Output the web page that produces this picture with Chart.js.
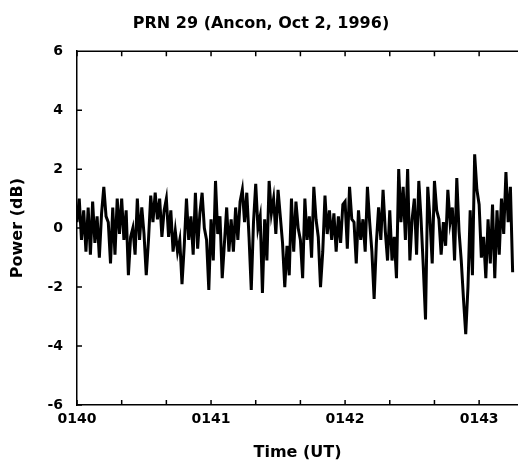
<!DOCTYPE html>
<html>
<head>
<meta charset="utf-8">
<script src="https://cdn.jsdelivr.net/npm/chart.js@4"></script>
<style>
  body { margin: 0; background: #fff; }
</style>
</head>
<body>
<canvas id="c" width="518" height="466"></canvas>
<script>
/* ===============================
   Data
================================ */
const chartTitle = "PRN 29 (Ancon, Oct 2, 1996)";
const xTickLabels = ["0140", "0141", "0142", "0143"];
const yTicks = [6, 4, 2, 0, -2, -4, -6];
const sampleSeconds = 1;

// power in dB, one sample per second starting at 01:40 UT
const powerDb = [
  0.2, 1.0, -0.4, 0.6, -0.8, 0.7, -0.9, 0.9, -0.5, 0.4, -1.0, 0.5, 1.4, 0.4, 0.2, -1.2, 0.7, -0.9, 1.0, -0.2,
  1.0, -0.4, 0.6, -1.6, -0.3, 0.0, -0.9, 1.0, -0.4, 0.7, -0.2, -1.6, -0.4, 1.1, 0.2, 1.2, 0.3, 1.0, -0.3, 0.6,
  1.0, -0.3, 0.6, -0.8, -0.1, -0.8, -0.4, -1.9, -0.6, 1.0, -0.4, 0.4, -0.9, 1.2, -0.7, 0.5, 1.2, 0.0, -0.4, -2.1,
  0.3, -1.1, 1.6, -0.2, 0.4, -1.7, -0.5, 0.7, -0.8, 0.3, -0.8, 0.7, -0.4, 0.9, 1.3, 0.2, 1.2, -0.3, -2.1, 0.2,
  1.5, 0.0, 0.4, -2.2, 0.3, -1.1, 1.6, 0.5, 1.0, -0.2, 1.3, 0.4, -0.5, -2.0, -0.6, -1.6, 1.0, -0.8, 0.9, 0.0,
  -0.4, -1.7, 1.0, -0.4, 0.4, -1.0, 1.4, 0.3, -0.3, -2.0, -0.8, 1.1, -0.2, 0.6, -0.4, 0.5, -0.8, 0.4, -0.5, 0.8,
  0.9, -0.7, 1.4, 0.3, 0.2, -1.2, 0.6, -0.4, 0.3, -0.8, 1.4, 0.2, -0.8, -2.4, -0.5, 0.7, -0.4, 1.3, -0.1, -1.1,
  0.6, -1.1, -0.3, -1.7, 2.0, 0.2, 1.4, -0.4, 2.0, -1.1, 0.3, 1.0, -0.9, 1.6, 0.3, -1.3, -3.1, 1.4, 0.3, -1.2,
  1.6, 0.6, 0.3, -0.9, 0.2, -0.6, 1.3, 0.2, 0.7, -1.1, 1.7, -0.1, -1.1, -2.4, -3.6, -2.0, 0.6, -1.6, 2.5, 1.3,
  0.8, -1.0, -0.3, -1.7, 0.3, -1.2, 0.8, -1.7, 0.6, -0.9, 1.0, -0.2, 1.9, 0.2, 1.4, -1.5
];

/* ===============================
   Helpers
================================ */
const points = powerDb.map((v, i) => ({ x: i * sampleSeconds / 60, y: v }));
const tickFont = { family: "DejaVu Sans", size: 14, weight: "bold" };
const titleFont = { family: "DejaVu Sans", size: 16, weight: "bold" };

// ticks every 20 s pointing into the plot, plus the top frame line
const frameTicks = {
  id: "frameTicks",
  afterDraw(chart) {
    const { ctx, chartArea, scales } = chart;
    ctx.save();
    ctx.strokeStyle = "#000";
    ctx.lineWidth = 1.5;
    ctx.beginPath();
    ctx.moveTo(chartArea.left, chartArea.top);
    ctx.lineTo(chartArea.right, chartArea.top);
    scales.x.ticks.forEach(t => {
      const px = scales.x.getPixelForValue(t.value);
      ctx.moveTo(px, chartArea.bottom);
      ctx.lineTo(px, chartArea.bottom - 5);
      ctx.moveTo(px, chartArea.top);
      ctx.lineTo(px, chartArea.top + 5);
    });
    scales.y.ticks.forEach(t => {
      const py = scales.y.getPixelForValue(t.value);
      ctx.moveTo(chartArea.left, py);
      ctx.lineTo(chartArea.left + 5, py);
    });
    ctx.stroke();
    ctx.restore();
  }
};

/* ===============================
   Chart
================================ */
new Chart(document.getElementById("c"), {
  type: "line",
  data: {
    datasets: [{
      data: points,
      borderColor: "#000",
      borderWidth: 3,
      pointRadius: 0,
      tension: 0
    }]
  },
  options: {
    responsive: false,
    animation: false,
    layout: { padding: { left: 4, right: 0, top: 0, bottom: 0 } },
    plugins: {
      legend: { display: false },
      tooltip: { enabled: false },
      title: {
        display: true,
        text: chartTitle,
        color: "#000",
        font: titleFont,
        padding: { top: 14, bottom: 18 }
      }
    },
    scales: {
      x: {
        type: "linear",
        min: 0,
        max: 3.29,
        afterBuildTicks: s => {
          s.ticks = [];
          for (let k = 0; k <= 9; k++) s.ticks.push({ value: k / 3 });
        },
        afterFit: s => { s.height = 61; },
        grid: { display: false, drawTicks: false },
        border: { color: "#000", width: 1.5 },
        ticks: {
          color: "#000",
          font: tickFont,
          padding: 6,
          maxRotation: 0,
          autoSkip: false,
          callback: v => {
            const m = Math.round(v * 3);
            return m % 3 === 0 ? xTickLabels[m / 3] : "";
          }
        },
        title: {
          display: true,
          text: "Time (UT)",
          color: "#000",
          font: titleFont,
          padding: { top: 4 }
        }
      },
      y: {
        min: -6,
        max: 6,
        afterBuildTicks: s => { s.ticks = yTicks.map(v => ({ value: v })); },
        afterFit: s => { s.width = 73; },
        grid: { display: false, drawTicks: false },
        border: { color: "#000", width: 1.5 },
        ticks: { color: "#000", font: tickFont, padding: 14 },
        title: {
          display: true,
          text: "Power (dB)",
          color: "#000",
          font: titleFont,
          padding: { bottom: 4 }
        }
      }
    }
  },
  plugins: [frameTicks]
});
</script>
</body>
</html>
